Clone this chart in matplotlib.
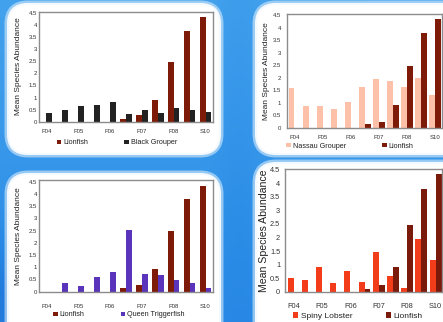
import matplotlib
matplotlib.use("Agg")
import matplotlib.pyplot as plt
from matplotlib.patches import FancyBboxPatch
from matplotlib.colors import LinearSegmentedColormap
import numpy as np

plt.rcParams['font.family'] = ['Liberation Sans', 'DejaVu Sans']

categories = ["F04", "S05", "F05", "S06", "F06", "S07", "F07", "S08", "F08", "S09", "S10"]
shown_labels = ["F04", "", "F05", "", "F06", "", "F07", "", "F08", "", "S10"]

lionfish_1 = [0, 0, 0, 0, 0, 0.12, 0.27, 0.89, 2.48, 3.76, 4.32]
black_grouper = [0.36, 0.5, 0.63, 0.71, 0.8, 0.31, 0.47, 0.35, 0.57, 0.5, 0.42]

nassau_grouper = [1.6, 0.85, 0.88, 0.75, 1.04, 1.64, 1.94, 1.88, 1.64, 2.0, 1.3]
lionfish_2 = [0, 0, 0, 0, 0, 0.15, 0.24, 0.9, 2.48, 3.77, 4.33]

lionfish_3 = [0, 0, 0, 0, 0, 0.14, 0.27, 0.91, 2.49, 3.78, 4.34]
queen_trigger = [0, 0.34, 0.25, 0.59, 0.82, 2.54, 0.71, 0.67, 0.47, 0.36, 0.17]

spiny_lobster = [0.52, 0.43, 0.92, 0.33, 0.76, 0.35, 1.45, 0.58, 0.14, 1.94, 1.16]
lionfish_4 = [0, 0, 0, 0, 0, 0.11, 0.25, 0.9, 2.48, 3.78, 4.34]

yticks = [0, 0.5, 1, 1.5, 2, 2.5, 3, 3.5, 4, 4.5]
ytick_labels = ["0", "0.5", "1", "1.5", "2", "2.5", "3", "3.5", "4", "4.5"]

W, H = 443, 322
fig = plt.figure(figsize=(W / 100, H / 100), dpi=100)
fig.patch.set_facecolor('#2a8be6')

# background gradient
bg = fig.add_axes([0, 0, 1, 1])
blue_cmap = LinearSegmentedColormap.from_list('bluebg', ['#1565d0', '#2a8be6', '#5cb8f4'])
yy, xx = np.mgrid[0:1:200j, 0:1:200j]
grad = 0.75 - 0.25 * yy - 0.05 * np.exp(-((xx - 0.54) / 0.05) ** 2) \
       - 0.25 * np.exp(-(((xx - 0.05) / 0.15) ** 2 + ((yy - 0.95) / 0.2) ** 2))
bg.imshow(grad, cmap=blue_cmap, vmin=0, vmax=1, extent=[0, 1, 0, 1], aspect='auto', origin='upper')
bg.set_axis_off()


def px_rect(l, t, r, b):
    return [l / W, 1 - b / H, (r - l) / W, (b - t) / H]


def box(l, t, r, b):
    x0, y0, w, h = px_rect(l, t, r, b)
    glow = FancyBboxPatch((x0, y0), w, h, boxstyle="round,pad=0,rounding_size=0.045",
                          transform=fig.transFigure, facecolor='none', edgecolor='#d8ecfb',
                          linewidth=5, alpha=0.6, zorder=1, mutation_aspect=W / H)
    fig.add_artist(glow)
    p = FancyBboxPatch((x0, y0), w, h, boxstyle="round,pad=0,rounding_size=0.045",
                       transform=fig.transFigure, facecolor='white', edgecolor='#f4f9fe',
                       linewidth=1.5, zorder=1, mutation_aspect=W / H)
    fig.add_artist(p)


box(8, 4, 220, 154)
box(256, 4, 470, 154)
box(8, 174, 220, 345)
box(256, 163, 470, 345)


def panel(rect, left_vals, right_vals, left_col, right_col, left_name, right_name,
          width, xlim, ylim_top, tick_fs, label_fs, xpad, ypad, lpad, leg_xy, leg_fs, colsp):
    ax = fig.add_axes(px_rect(*rect))
    ax.set_zorder(3)
    x = np.arange(len(categories))
    ax.bar(x - width / 2, left_vals, width, color=left_col, label=left_name, zorder=2)
    ax.bar(x + width / 2, right_vals, width, color=right_col, label=right_name, zorder=2)
    ax.set_xlim(*xlim)
    ax.set_ylim(0, ylim_top)
    ax.set_xticks(x)
    ax.set_xticklabels(shown_labels, fontsize=tick_fs, color='#333333')
    ax.set_yticks(yticks)
    ax.set_yticklabels(ytick_labels, fontsize=tick_fs, color='#333333')
    ax.tick_params(axis='x', length=0, pad=xpad)
    ax.tick_params(axis='y', length=0, pad=ypad)
    for s in ax.spines.values():
        s.set_color('#8c8c8c')
        s.set_linewidth(1.0)
    ax.set_ylabel("Mean Species Abundance", fontsize=label_fs, color='#222222', labelpad=lpad)
    leg = ax.legend(loc='center', bbox_to_anchor=(leg_xy[0] / W, 1 - leg_xy[1] / H),
                    bbox_transform=fig.transFigure, ncol=2, frameon=False, fontsize=leg_fs,
                    handlelength=0.6, handleheight=0.6, handletextpad=0.3,
                    columnspacing=colsp, borderpad=0)
    for t in leg.get_texts():
        t.set_color('#222222')
    return ax


panel((39.3, 11.5, 213, 121.7), lionfish_1, black_grouper, '#7e1a08', '#222222',
      'Lionfish', 'Black Grouper', 0.36, (-0.45, 10.47), 4.56, 4.3, 6.0, 5, 1.5, 5,
      (117, 143), 5.2, 5.0)
panel((286.7, 14.3, 441.5, 127.7), nassau_grouper, lionfish_2, '#fcc1a8', '#7e1a08',
      'Nassau Grouper', 'Lionfish', 0.42, (-0.55, 10.45), 4.53, 4.3, 6.0, 5, 4, 2,
      (350, 146), 5.2, 5.0)
panel((39.3, 180, 213, 291.7), lionfish_3, queen_trigger, '#7e1a08', '#5a34ba',
      'Lionfish', 'Queen Triggerfish', 0.36, (-0.45, 10.47), 4.57, 4.3, 6.0, 9, 1.5, 5,
      (119, 315), 5.2, 5.0)
panel((285, 169, 441.5, 291.7), spiny_lobster, lionfish_4, '#f23c1a', '#7a1a0a',
      'Spiny Lobster', 'Lionfish', 0.42, (-0.6, 10.42), 4.53, 5.3, 7.6, 8, 3.5, 1,
      (358, 316), 6.0, 4.0)

fig.savefig("out.png", dpi=100, facecolor=fig.get_facecolor())
